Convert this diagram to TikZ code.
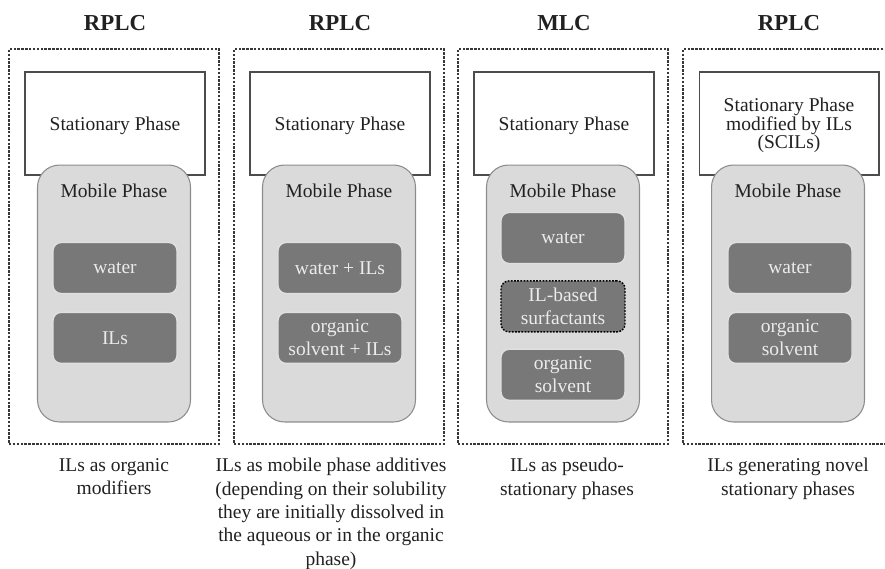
\documentclass[tikz,border=0pt]{standalone}
\usepackage{fontspec}
\setmainfont{Liberation Serif}
\usepackage{tikz}
\usetikzlibrary{positioning}
\usepackage{xcolor}

\definecolor{mobgray}{gray}{0.855}
\definecolor{ilgray}{gray}{0.47}
\definecolor{txtgray}{gray}{0.13}
\newcommand{\phasefont}{\fontsize{11.1}{13.6}\selectfont}

\tikzset{
  frame/.style={draw=black!78, line width=0.7pt, dash pattern=on 1.4pt off 0.8pt,
    minimum width=4.2cm, minimum height=7.9cm, inner sep=0pt},
  title/.style={font=\fontsize{13}{15}\selectfont\bfseries, text=txtgray},
  statbox/.style={draw=black!70, fill=white, line width=0.6pt, minimum width=3.6cm,
    minimum height=2.06cm, align=center, text=txtgray, inner sep=0pt,
    font=\fontsize{11.1}{10.5}\selectfont},
  mobbox/.style={draw=black!45, fill=mobgray, line width=0.6pt, rounded corners=0.44cm,
    minimum width=3.06cm, minimum height=5.14cm},
  ilbox/.style={draw=white!88!black, fill=ilgray, line width=0.8pt, rounded corners=0.16cm,
    minimum width=2.48cm, minimum height=1.02cm, align=center, text=white!92!black,
    inner sep=0pt, font=\fontsize{11.1}{13}\selectfont},
  caption/.style={align=center, text=txtgray, anchor=north, inner sep=0pt,
    font=\fontsize{11.1}{13.3}\selectfont}
}

\begin{document}
\begin{tikzpicture}[x=0.02cm, y=-0.02cm]
  \useasboundingbox (0,0) rectangle (885,568);
  \clip (0,0) rectangle (885,568);

  % four panels: frame, title, stationary and mobile phase
  \foreach \cx/\ttl/\stxt/\n in {114/RPLC/{Stationary Phase}/1, 339/RPLC/{Stationary Phase}/2,
      563/MLC/{Stationary Phase}/3, 788/RPLC/{Stationary Phase\\modified by ILs\\(SCILs)}/4} {
    \node[frame] (frame\n) at (\cx, 246.5) {};
    \node[title] (title\n) at (\cx+1, 23.5) {\ttl};
    \node[statbox, text depth=0pt] (stat\n) at (\cx+1, 123.5) {\stxt};
    \node[mobbox] (mob\n) at (\cx, 293.5) {};
    \node[font=\phasefont, text=txtgray] (mobtxt\n) at (\cx, 191) {Mobile Phase};
  }

  % mobile phase contents
  \node[ilbox] (water1) at (115, 268) {water};
  \node[ilbox, below=0.35cm of water1] (ils1) {ILs};

  \node[ilbox] (water2) at (340, 268) {water + ILs};
  \node[ilbox, below=0.35cm of water2] (orgils2) {organic\\solvent + ILs};

  \node[ilbox] (water3) at (563, 238) {water};
  \node[ilbox, draw=black, dash pattern=on 1pt off 0.8pt, below=0.32cm of water3] (surf3) {IL-based\\surfactants};
  \node[ilbox, below=0.32cm of surf3] (org3) {organic\\solvent};

  \node[ilbox] (water4) at (790, 268) {water};
  \node[ilbox, below=0.35cm of water4] (org4) {organic\\solvent};

  % captions
  \node[caption] (cap1) at (114, 458) {ILs as organic\\modifiers};
  \node[caption] (cap2) at (331, 458) {ILs as mobile phase additives\\(depending on their solubility\\they are initially dissolved in\\the aqueous or in the organic\\phase)};
  \node[caption] (cap3) at (567, 458) {ILs as pseudo-\\stationary phases};
  \node[caption] (cap4) at (788, 458) {ILs generating novel\\stationary phases};
\end{tikzpicture}
\end{document}
